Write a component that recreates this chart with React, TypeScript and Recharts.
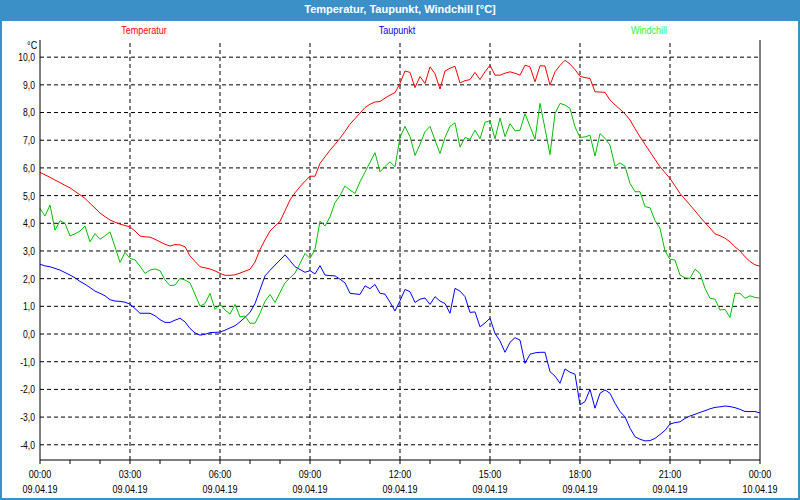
import React from 'react';
import { LineChart, Line, XAxis, YAxis, ReferenceLine, Legend } from 'recharts';

// 10-minute readings, 09.04.19 00:00 .. 10.04.19 00:00
const stepMinutes = 10;

const temperatur = [
  5.84, 5.75, 5.66, 5.56, 5.47, 5.37, 5.28, 5.15, 5.03, 4.9, 4.72, 4.55,
  4.37, 4.24, 4.12, 4.04, 3.97, 3.92, 3.87, 3.72, 3.54, 3.51, 3.5, 3.42,
  3.33, 3.24, 3.18, 3.23, 3.22, 3.15, 2.82, 2.62, 2.43, 2.39, 2.35, 2.28,
  2.19, 2.12, 2.12, 2.14, 2.2, 2.27, 2.34, 2.6, 3.05, 3.4, 3.72, 3.9,
  4.07, 4.45, 4.84, 5.1, 5.32, 5.52, 5.7, 5.7, 6.16, 6.4, 6.64, 6.85,
  7.07, 7.32, 7.58, 7.78, 7.98, 8.18, 8.3, 8.38, 8.4, 8.52, 8.63, 8.72,
  9.05, 9.5, 9.45, 8.9, 9.3, 9.05, 9.65, 9.4, 8.85, 9.5, 9.6, 9.67,
  9.07, 9.15, 9.19, 9.45, 9.19, 9.47, 9.71, 9.35, 9.35, 9.42, 9.47, 9.42,
  9.35, 9.71, 9.65, 9.11, 9.69, 9.68, 8.99, 9.47, 9.7, 9.89, 9.75, 9.55,
  9.31, 9.26, 9.23, 8.75, 8.74, 8.73, 8.45, 8.28, 8.12, 7.95, 7.73, 7.42,
  7.12, 6.85, 6.58, 6.31, 6.04, 5.83, 5.62, 5.35, 5.08, 4.87, 4.66, 4.45,
  4.23, 4.02, 3.83, 3.62, 3.55, 3.46, 3.33, 3.15, 3.0, 2.79, 2.62, 2.5,
  2.45,
];

const taupunkt = [
  2.52, 2.46, 2.43, 2.37, 2.31, 2.22, 2.13, 2.03, 1.9, 1.8, 1.68, 1.55,
  1.47, 1.38, 1.24, 1.19, 1.18, 1.15, 1.08, 0.92, 0.75, 0.75, 0.75, 0.66,
  0.52, 0.42, 0.42, 0.5, 0.57, 0.44, 0.2, 0.04, -0.04, -0.01, 0.05, 0.06,
  0.07, 0.14, 0.22, 0.3, 0.44, 0.6, 0.78, 1.1, 1.6, 2.1, 2.3, 2.49,
  2.67, 2.86, 2.65, 2.43, 2.33, 2.23, 2.29, 2.17, 2.47, 2.13, 2.11, 2.1,
  1.98, 1.85, 1.47, 1.45, 1.43, 1.74, 1.64, 1.79, 1.47, 1.44, 1.15, 0.83,
  1.2, 1.61, 1.53, 1.14, 1.26, 1.3, 1.07, 1.35, 1.19, 1.1, 0.75, 1.65,
  1.55, 1.35, 0.78, 0.8, 0.26, 0.4, 0.57, 0.02, -0.25, -0.66, -0.3, -0.13,
  -0.22, -1.06, -0.73, -0.68, -0.66, -0.66, -1.36, -1.52, -1.78, -1.26, -1.38, -1.45,
  -2.56, -2.44, -2.0, -2.68, -2.14, -2.02, -2.14, -2.5, -2.8, -2.99, -3.4, -3.71,
  -3.8, -3.86, -3.85, -3.77, -3.63, -3.48, -3.25, -3.2, -3.17, -3.05, -2.96, -2.9,
  -2.83, -2.77, -2.7, -2.65, -2.63, -2.6, -2.62, -2.66, -2.72, -2.8, -2.8, -2.8,
  -2.85,
];

const windchill = [
  4.54, 4.26, 4.66, 3.75, 4.09, 4.0, 3.54, 3.62, 3.72, 3.9, 3.33, 3.63,
  3.42, 3.55, 3.69, 3.15, 2.59, 2.95, 2.73, 2.68, 2.45, 2.19, 2.31, 2.35,
  2.29, 1.95, 1.75, 1.77, 2.01, 1.95, 1.85, 1.43, 1.01, 1.1, 1.47, 0.89,
  1.08, 0.87, 0.72, 1.07, 0.62, 0.65, 0.39, 0.39, 0.75, 1.18, 1.43, 1.14,
  1.5, 1.85, 2.03, 2.2, 2.55, 2.91, 2.73, 3.06, 4.08, 3.9, 4.23, 4.75,
  5.0, 5.35, 5.2, 5.08, 5.5, 5.85, 6.2, 6.55, 5.86, 6.05, 6.22, 6.04,
  7.1, 7.5, 7.13, 6.45, 6.85, 7.31, 7.5, 7.0, 6.52, 7.1, 7.5, 7.63,
  6.75, 7.1, 7.03, 7.36, 7.05, 7.65, 7.7, 7.05, 7.8, 7.13, 7.6, 7.34,
  7.36, 7.96, 7.5, 7.03, 8.33, 7.42, 6.48, 7.96, 8.33, 8.27, 8.15, 7.48,
  7.1, 7.12, 7.18, 6.43, 7.24, 7.07, 6.82, 6.06, 6.18, 6.06, 5.44, 5.14,
  5.14, 4.6, 4.56, 4.1, 3.82, 3.0, 2.7, 2.67, 2.13, 2.03, 2.01, 2.34,
  2.19, 1.65, 1.29, 1.26, 0.87, 0.89, 0.6, 1.47, 1.47, 1.29, 1.38, 1.32,
  1.3,
];

const timeLabels = ['00:00', '03:00', '06:00', '09:00', '12:00', '15:00', '18:00', '21:00', '00:00'];
const dateLabels = ['09.04.19', '09.04.19', '09.04.19', '09.04.19', '09.04.19', '09.04.19', '09.04.19', '09.04.19', '10.04.19'];
const hourTicks = [0, 60, 120, 180, 240, 300, 360, 420, 480, 540, 600, 660, 720, 780, 840, 900, 960, 1020, 1080, 1140, 1200, 1260, 1320, 1380, 1440];
const majorTicks = [180, 360, 540, 720, 900, 1080, 1260];
const yTicks = [-4, -3, -2, -1, 0, 1, 2, 3, 4, 5, 6, 7, 8, 9, 10];

const seriesInfo = [
  { key: 'temperatur', name: 'Temperatur', color: '#ff0000', legendColor: '#ff0000', pos: 144 },
  { key: 'taupunkt', name: 'Taupunkt', color: '#0000ff', legendColor: '#0000ff', pos: 397 },
  { key: 'windchill', name: 'Windchill', color: '#00c000', legendColor: '#33ee33', pos: 649 },
];

const data = temperatur.map((v, i) => ({
  t: i * stepMinutes,
  temperatur: v,
  taupunkt: taupunkt[i],
  windchill: windchill[i],
}));

const FONT = '"Liberation Sans", Arial, sans-serif';
const NARROW = 0.82;

const XTick = (props: any) => {
  const { x, y, payload } = props;
  const v = payload.value;
  if (v % 180 !== 0) return <g />;
  const idx = v / 180;
  return (
    <g transform={`translate(${x},${y}) scale(${NARROW},1)`}>
      <text x={0} y={0} textAnchor="middle" fontSize={11} fontFamily={FONT} fill="#000">
        <tspan x={0} dy="0.71em">{timeLabels[idx]}</tspan>
        <tspan x={0} dy={15}>{dateLabels[idx]}</tspan>
      </text>
    </g>
  );
};

const YTick = (props: any) => {
  const { x, y, payload } = props;
  const label = Number(payload.value).toFixed(1).replace('.', ',');
  return (
    <g transform={`translate(${x},${y}) scale(0.78,1)`}>
      <text x={0} y={0} dy="0.355em" textAnchor="end" fontSize={11} fontFamily={FONT} fill="#000">
        {label}
      </text>
    </g>
  );
};

const renderLegend = () => (
  <div style={{ position: 'relative', width: 800, height: 0 }}>
    {seriesInfo.map((s) => (
      <span
        key={s.key}
        style={{
          position: 'absolute',
          left: s.pos,
          top: 24,
          transform: `translateX(-50%) scaleX(${NARROW})`,
          fontFamily: FONT,
          fontSize: 11,
          lineHeight: '13px',
          color: s.legendColor,
          whiteSpace: 'nowrap',
        }}
      >
        {s.name}
      </span>
    ))}
  </div>
);

export default function App() {
  return (
    <div
      style={{
        position: 'absolute',
        left: 0,
        top: 0,
        width: 800,
        height: 500,
        background: '#ffffff',
        boxSizing: 'border-box',
        border: '2px solid #3c90c8',
        overflow: 'hidden',
      }}
    >
      <div
        style={{
          position: 'absolute',
          left: -2,
          top: -2,
          width: 800,
          height: 21,
          background: '#3c90c8',
          color: '#ffffff',
          fontFamily: FONT,
          fontWeight: 'bold',
          fontSize: 11,
          lineHeight: '19px',
          textAlign: 'center',
        }}
      >
        Temperatur, Taupunkt, Windchill [°C]
      </div>
      <div
        style={{
          position: 'absolute',
          left: 24,
          top: 37,
          fontFamily: FONT,
          fontSize: 11,
          lineHeight: '13px',
          color: '#000',
          transform: `scaleX(${NARROW})`,
        }}
      >
        °C
      </div>
      <div style={{ position: 'absolute', left: -2, top: -2 }}>
        <LineChart width={800} height={500} data={data} margin={{ top: 40, right: 40, bottom: 0, left: 0 }}>
          <Legend
            content={renderLegend}
            verticalAlign="top"
            wrapperStyle={{ position: 'absolute', left: 0, top: 0, width: 800, height: 0, overflow: 'visible' }}
          />
          <XAxis
            dataKey="t"
            type="number"
            domain={[0, 1440]}
            ticks={hourTicks}
            interval={0}
            height={40}
            tick={<XTick />}
            tickSize={4}
            tickMargin={6}
            stroke="#000"
            axisLine={{ stroke: '#000' }}
            tickLine={{ stroke: '#000' }}
          />
          <YAxis
            type="number"
            domain={[-4.55, 10.62]}
            ticks={yTicks}
            interval={0}
            width={40}
            tickSize={0}
            tickMargin={5}
            axisLine={{ stroke: '#000' }}
            tickLine={false}
            tick={<YTick />}
          />
          {yTicks.map((v) => (
            <ReferenceLine key={'h' + v} y={v} stroke="#000" strokeDasharray="4 3" />
          ))}
          {majorTicks.map((v) => (
            <ReferenceLine key={'v' + v} x={v} stroke="#000" strokeDasharray="4 3" />
          ))}
          <ReferenceLine x={1440} stroke="#000" />
          {seriesInfo.map((s) => (
            <Line
              key={s.key}
              type="linear"
              dataKey={s.key}
              name={s.name}
              stroke={s.color}
              strokeWidth={1}
              dot={false}
              activeDot={false}
              isAnimationActive={false}
            />
          ))}
        </LineChart>
      </div>
    </div>
  );
}
